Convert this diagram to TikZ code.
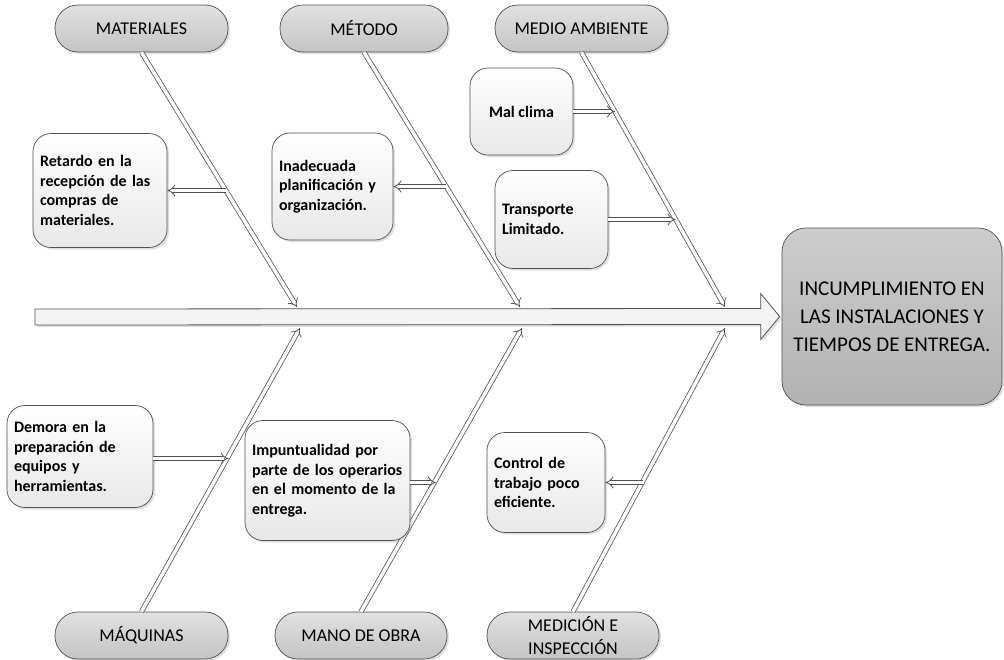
\documentclass[tikz,border=0pt]{standalone}
\usepackage{fontspec}
\setmainfont{Carlito}
\usetikzlibrary{arrows.meta, calc, shadows}
\definecolor{edgegray}{RGB}{80,80,80}
\definecolor{pilltop}{RGB}{225,225,225}
\definecolor{pillbot}{RGB}{196,196,196}
\definecolor{headtop}{RGB}{205,205,205}
\definecolor{headbot}{RGB}{178,178,178}
\definecolor{causebot}{RGB}{232,232,232}
\definecolor{spinefill}{RGB}{244,244,244}

\tikzset{
    softshadow/.style={drop shadow={shadow xshift=2pt, shadow yshift=-2pt, opacity=0.25}},
    category/.style={draw=edgegray, line width=0.7pt, rounded corners=23pt,
        top color=pilltop, bottom color=pillbot, minimum width=173pt, minimum height=47pt,
        inner sep=2pt, align=center, font=\fontsize{18}{23}\selectfont, softshadow},
    cause/.style={draw=edgegray, line width=0.7pt, rounded corners=18pt,
        top color=white, bottom color=causebot, inner xsep=7pt, inner ysep=4pt,
        align=left, font=\fontsize{16}{19.5}\selectfont\bfseries, softshadow},
    effectbox/.style={draw=edgegray, line width=0.7pt, rounded corners=24pt,
        top color=headtop, bottom color=headbot, minimum width=220pt, minimum height=177pt,
        align=center, font=\fontsize{21}{28}\selectfont, softshadow},
    bone/.style={draw=edgegray, double=white, double distance=3.5pt, line width=0.75pt, -{Implies}},
    twig/.style={draw=edgegray, double=white, double distance=3.5pt, line width=0.75pt, -{Implies}},
    spine/.style={draw=edgegray, line width=0.8pt, fill=spinefill, softshadow}
}

\begin{document}
\begin{tikzpicture}[x=1pt, y=-1pt]
    \useasboundingbox (0,0) rectangle (1004,659);

    \node[effectbox] (effect) at (892,316.5) {INCUMPLIMIENTO EN\\LAS INSTALACIONES Y\\TIEMPOS DE ENTREGA.};

    \coordinate (tail) at (35,317);
    \draw[spine] ([yshift=8pt]tail) -- ([xshift=-21pt,yshift=8pt]effect.west)
        -- ([xshift=-21pt,yshift=23pt]effect.west) -- ([xshift=-2pt]effect.west)
        -- ([xshift=-21pt,yshift=-23pt]effect.west) -- ([xshift=-21pt,yshift=-8pt]effect.west)
        -- ([yshift=-8pt]tail) -- cycle;

    \node[category] (mat)  at (141.5,28.5) {MATERIALES};
    \node[category, minimum width=168pt] (met) at (364,28.5) {MÉTODO};
    \node[category] (amb)  at (581.5,28.5) {MEDIO AMBIENTE};
    \node[category] (maq)  at (141.5,635.5) {MÁQUINAS};
    \node[category, minimum width=172pt] (mano) at (361,635.5) {MANO DE OBRA};
    \node[category, minimum width=172pt] (medi) at (573,635.5) {MEDICIÓN E\\INSPECCIÓN};

    \coordinate (matEnd)  at (297,307);
    \coordinate (metEnd)  at (520,307);
    \coordinate (ambEnd)  at (725,307);
    \coordinate (maqEnd)  at (300,328);
    \coordinate (manoEnd) at (522,328);
    \coordinate (mediEnd) at (725,328);

    \draw[bone] (mat.south)  -- (matEnd);
    \draw[bone] (met.south)  -- (metEnd);
    \draw[bone] (amb.south)  -- (ambEnd);
    \draw[bone] (maq.north)  -- (maqEnd);
    \draw[bone] (mano.north) -- (manoEnd);
    \draw[bone] (medi.north) -- (mediEnd);

    \node[cause, text width=120pt, minimum height=114pt] (retardo) at (100,190.5)
        {Retardo en la\\recepción de las\\compras de\\materiales.};
    \node[cause, text width=107pt, minimum height=107pt] (inade) at (332.5,186.5)
        {Inadecuada\\planificación y\\organización.};
    \node[cause, align=center, minimum width=103pt, minimum height=87pt] (clima) at (521.5,111.5)
        {Mal clima};
    \node[cause, text width=99pt, minimum height=98pt] (transp) at (551.5,219.5)
        {Transporte\\Limitado.};
    \node[cause, text width=132pt, minimum height=102pt] (demora) at (80,456.5)
        {Demora en la\\preparación de\\equipos y\\herramientas.};
    \node[cause, text width=151pt, minimum height=120pt] (impunt) at (327.5,480.5)
        {Impuntualidad por\\parte de los operarios\\en el momento de la\\entrega.};
    \node[cause, text width=104pt, minimum height=100pt] (control) at (546,482.5)
        {Control de\\trabajo poco\\eficiente.};

    \draw[twig] (retardo.east -| {$(mat.south)!0.541!(matEnd)$}) -- (retardo.east);
    \draw[twig] (inade.east -| {$(met.south)!0.527!(metEnd)$}) -- (inade.east);
    \draw[twig] (clima.east) -- (clima.east -| {$(amb.south)!0.233!(ambEnd)$});
    \draw[twig] (transp.east) -- (transp.east -| {$(amb.south)!0.655!(ambEnd)$});
    \draw[twig] ([yshift=-2pt]demora.east) -- ([yshift=-2pt]demora.east -| {$(maq.north)!0.549!(maqEnd)$});
    \draw[twig] ([yshift=-2pt]impunt.east) -- ([yshift=-2pt]impunt.east -| {$(mano.north)!0.465!(manoEnd)$});
    \draw[twig] (control.east -| {$(medi.north)!0.458!(mediEnd)$}) -- (control.east);
\end{tikzpicture}
\end{document}
